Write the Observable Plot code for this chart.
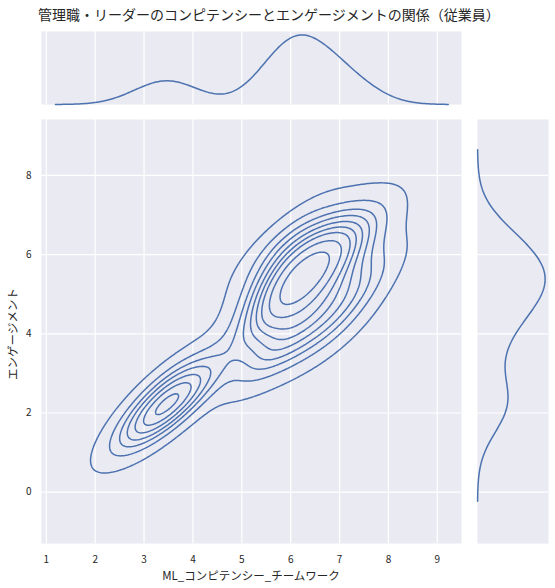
<!DOCTYPE html>
<html><head><meta charset="utf-8">
<script src="https://cdn.jsdelivr.net/npm/d3@7"></script>
<script src="https://cdn.jsdelivr.net/npm/@observablehq/plot@0.6"></script>
<style>
body{margin:0;background:#fff;}
#wrap{position:relative;width:555px;height:588px;overflow:hidden;font-family:"Noto Sans CJK JP","Noto Sans",sans-serif;color:#262626;background:#fff;}
#wrap svg{position:absolute;}
.t{position:absolute;white-space:nowrap;line-height:1;}
</style></head><body>
<div id="wrap"></div>
<script>
// ---- data (read/estimated from the picture) ----
const titleText = "管理職・リーダーのコンピテンシーとエンゲージメントの関係（従業員）";
const xLabel = "ML_コンピテンシー_チームワーク";
const yLabel = "エンゲージメント";
const xTicks = [1, 2, 3, 4, 5, 6, 7, 8, 9];
const yTicks = [0, 2, 4, 6, 8];
const compX = [
  6.0, 6.8, 7.3, 5.7, 6.3, 6.9, 7.41,
  6.0, 6.4, 6.8, 5.8, 6.1, 6.5, 7.3,
  5.9, 6.2, 6.7, 5.8, 6.1, 7.2,
  5.8, 6.3, 6.7, 5.75, 7.0, 6.0,
  5.7, 6.2, 5.6, 6.2, 6.0, 5.9, 6.4, 6.3,
  7.35, 6.5,
  3.0, 3.2, 3.35, 3.45, 3.55, 3.65, 3.8, 3.9, 3.25, 3.5
];
const engY = [
  6.5, 6.6, 6.6, 6.3, 6.3, 6.2, 6.2,
  6.0, 5.9, 5.8, 5.7, 5.6, 5.5, 5.5,
  5.3, 5.2, 5.1, 5.0, 4.9, 4.8,
  4.6, 4.5, 4.3, 4.3, 4.0, 4.0,
  3.7, 3.6, 3.4, 5.8, 5.5, 4.8, 5.4, 5.3,
  5.1, 4.8,
  1.82, 1.95, 2.2, 1.9, 2.4, 2.05, 2.3, 2.6, 2.5, 2.8
];

const xDomain = [0.902, 9.495];
const yDomain = [-1.295, 9.41];
const BLUE = "#4C72B0", BG = "#EAEAF2";

// ---- gaussian KDE (scott's rule, full covariance) like scipy / seaborn ----
function kde2d(xs, ys) {
  const n = xs.length, mx = d3.mean(xs), my = d3.mean(ys);
  let sxx = 0, syy = 0, sxy = 0;
  for (let i = 0; i < n; i++) {
    const dx = xs[i] - mx, dy = ys[i] - my;
    sxx += dx * dx; syy += dy * dy; sxy += dx * dy;
  }
  sxx /= n - 1; syy /= n - 1; sxy /= n - 1;
  const f2 = Math.pow(n, -1 / 3);
  const a = sxx * f2, b = sxy * f2, c = syy * f2;
  const det = a * c - b * b;
  const ia = c / det, ib = -b / det, ic = a / det;
  const norm = 1 / (n * 2 * Math.PI * Math.sqrt(det));
  const fn = (x, y) => {
    let s = 0;
    for (let i = 0; i < n; i++) {
      const dx = x - xs[i], dy = y - ys[i];
      s += Math.exp(-0.5 * (ia * dx * dx + 2 * ib * dx * dy + ic * dy * dy));
    }
    return s * norm;
  };
  return {fn, bwx: Math.sqrt(a), bwy: Math.sqrt(c)};
}
function kde1d(v) {
  const n = v.length, sd = d3.deviation(v);
  const bw = Math.pow(n, -0.2) * sd;
  const lo = d3.min(v) - 3 * bw, hi = d3.max(v) + 3 * bw;
  return d3.range(200).map(i => {
    const t = lo + (hi - lo) * i / 199;
    let s = 0;
    for (const u of v) s += Math.exp(-0.5 * ((t - u) / bw) ** 2);
    return {t, d: s / (n * bw * Math.sqrt(2 * Math.PI))};
  });
}

const K = kde2d(compX, engY);
// seaborn iso-proportion levels (levels=10, thresh=0.05) on a 200x200 support grid
const gx0 = d3.min(compX) - 3 * K.bwx, gx1 = d3.max(compX) + 3 * K.bwx;
const gy0 = d3.min(engY) - 3 * K.bwy, gy1 = d3.max(engY) + 3 * K.bwy;
const vals = [];
for (let i = 0; i < 200; i++) for (let j = 0; j < 200; j++)
  vals.push(K.fn(gx0 + (gx1 - gx0) * i / 199, gy0 + (gy1 - gy0) * j / 199));
vals.sort((p, q) => q - p);
const total = d3.sum(vals);
const cum = []; let acc = 0;
for (const v of vals) { acc += v; cum.push(acc / total); }
const isoprop = d3.range(10).map(i => 0.05 + i * 0.95 / 9);
const levels = isoprop.map(p => vals[Math.min(d3.bisectLeft(cum, 1 - p), vals.length - 1)])
  .slice(0, 9).sort((p, q) => p - q);

const margX = kde1d(compX);
const margY = kde1d(engY);

const baseStyle = {fontFamily: '"Noto Sans CJK JP","Noto Sans",sans-serif', fontSize: "10px", color: "#262626", background: "transparent", overflow: "visible"};
const grid = {stroke: "#ffffff", strokeOpacity: 1, strokeWidth: 1.2};

const mainPlot = Plot.plot({
  width: 470, height: 478,
  marginLeft: 41, marginRight: 9, marginTop: 9, marginBottom: 45,
  x: {domain: xDomain}, y: {domain: yDomain},
  style: baseStyle,
  marks: [
    Plot.frame({fill: BG, stroke: "none"}),
    Plot.gridX({ticks: xTicks, ...grid}),
    Plot.gridY({ticks: yTicks, ...grid}),
    Plot.axisX({ticks: xTicks, tickSize: 0, tickPadding: 12, label: null, fontSize: 10}),
    Plot.axisY({ticks: yTicks, tickSize: 0, tickPadding: 10, label: null, fontSize: 10}),
    Plot.contour({value: K.fn, x1: xDomain[0], x2: xDomain[1], y1: yDomain[0], y2: yDomain[1],
      thresholds: levels, fill: "none", stroke: BLUE, strokeWidth: 1.5, pixelSize: 1.5})
  ]
});

const topPlot = Plot.plot({
  width: 470, height: 73,
  marginLeft: 41, marginRight: 9, marginTop: 0, marginBottom: 0,
  x: {domain: xDomain, axis: null}, y: {domain: [0, d3.max(margX, d => d.d) * 1.05], axis: null},
  style: baseStyle,
  marks: [
    Plot.frame({fill: BG, stroke: "none"}),
    Plot.gridX({ticks: xTicks, ...grid}),
    Plot.line(margX, {x: "t", y: "d", stroke: BLUE, strokeWidth: 1.5})
  ]
});

const rightPlot = Plot.plot({
  width: 78, height: 478,
  marginLeft: 0, marginRight: 7, marginTop: 9, marginBottom: 45,
  x: {domain: [0, d3.max(margY, d => d.d) * 1.05], axis: null}, y: {domain: yDomain, axis: null},
  style: baseStyle,
  marks: [
    Plot.frame({fill: BG, stroke: "none"}),
    Plot.gridY({ticks: yTicks, ...grid}),
    Plot.line(margY, {x: "d", y: "t", stroke: BLUE, strokeWidth: 1.5})
  ]
});

const wrap = document.getElementById("wrap");
mainPlot.style.left = "0px"; mainPlot.style.top = "110px";
topPlot.style.left = "0px"; topPlot.style.top = "31px";
rightPlot.style.left = "477px"; rightPlot.style.top = "110px";
wrap.append(mainPlot, topPlot, rightPlot);

function addText(txt, css) {
  const d = document.createElement("div");
  d.className = "t"; d.textContent = txt;
  Object.assign(d.style, css);
  wrap.append(d);
  return d;
}
addText(titleText, {left: "38px", top: "7px", fontSize: "14px"});
addText(xLabel, {left: "251px", top: "570px", fontSize: "11.5px", transform: "translateX(-50%)"});
addText(yLabel, {left: "13px", top: "334px", fontSize: "11.5px", transform: "translate(-50%,-50%) rotate(-90deg)"});
</script>
</body></html>
